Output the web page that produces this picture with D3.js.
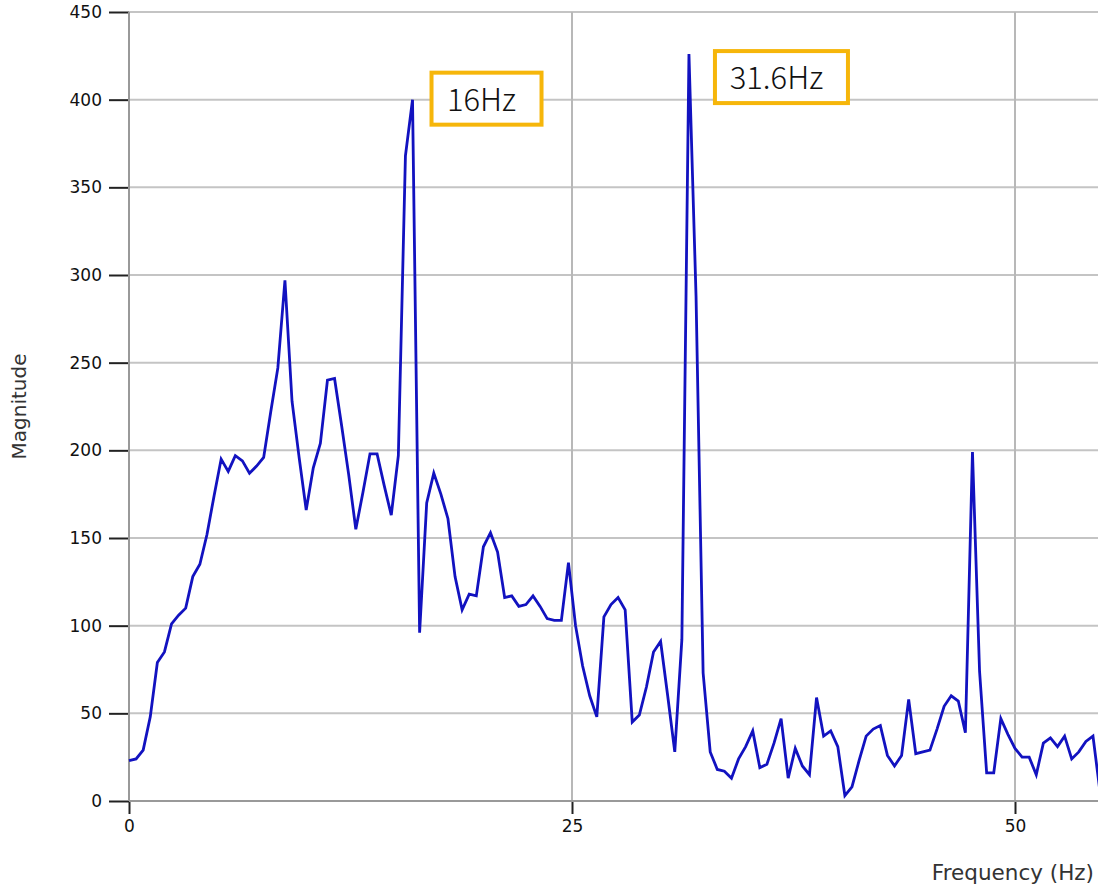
<!DOCTYPE html>
<html>
<head>
<meta charset="utf-8">
<script src="https://cdn.jsdelivr.net/npm/d3@7"></script>
<style>
  html, body { margin: 0; padding: 0; background: #fff; overflow: hidden; }
  svg { display: block; }
</style>
</head>
<body>
<svg id="chart" width="1098" height="890"></svg>
<script>
// ---- data ----
const frequencies = [0,0.4,0.8,1.2,1.6,2,2.4,2.8,3.2,3.6,4,4.4,4.8,5.2,5.6,6,6.4,6.8,7.2,7.6,
  8,8.4,8.8,9.2,9.6,10,10.4,10.8,11.2,11.6,12,12.4,12.8,13.2,13.6,14,14.4,14.8,15.2,15.6,
  16,16.4,16.8,17.2,17.6,18,18.4,18.8,19.2,19.6,20,20.4,20.8,21.2,21.6,22,22.4,22.8,23.2,23.6,
  24,24.4,24.8,25.2,25.6,26,26.4,26.8,27.2,27.6,28,28.4,28.8,29.2,29.6,30,30.4,30.8,31.2,31.6,
  32,32.4,32.8,33.2,33.6,34,34.4,34.8,35.2,35.6,36,36.4,36.8,37.2,37.6,38,38.4,38.8,39.2,39.6,
  40,40.4,40.8,41.2,41.6,42,42.4,42.8,43.2,43.6,44,44.4,44.8,45.2,45.6,46,46.4,46.8,47.2,47.6,
  48,48.4,48.8,49.2,49.6,50,50.4,50.8,51.2,51.6,52,52.4,52.8,53.2,53.6,54,54.4,54.8];
const magnitudes = [23,24,29,48,79,85,101,106,110,128,135,152,174,195,188,197,194,187,191,196,
  222,247,297,228,196,166,190,204,240,241,214,186,155,176,198,198,180,163,197,368,
  400,96,170,187,175,161,128,109,118,117,145,153,142,116,117,111,112,117,111,104,
  103,103,136,100,77,60,48,105,112,116,109,45,49,65,85,91,60,28,92,426,
  288,73,28,18,17,13,24,31,40,19,21,33,47,13,30,20,15,59,37,40,
  31,3,8,23,37,41,43,26,20,26,58,27,28,29,41,54,60,57,39,199,
  74,16,16,47,38,30,25,25,15,33,36,31,37,24,28,34,37,5];
const xTicks = [0, 25, 50];
const yTicks = [0, 50, 100, 150, 200, 250, 300, 350, 400, 450];
const xLabel = "Frequency (Hz)";
const yLabel = "Magnitude";
const annotations = [
  { text: "16Hz",   freq: 16,   mag: 400 },
  { text: "31.6Hz", freq: 31.6, mag: 426 }
];

// ---- layout ----
const W = 1098, H = 890;
const svg = d3.select("#chart");
const x = d3.scaleLinear().domain([0, 50]).range([129, 1015]);
const y = d3.scaleLinear().domain([0, 450]).range([801, 12]);
const right = W;
const sans = "'DejaVu Sans', Verdana, sans-serif";

// gridlines (horizontal)
svg.append("g")
  .selectAll("line")
  .data(yTicks)
  .join("line")
  .attr("x1", x(0)).attr("x2", right)
  .attr("y1", d => y(d)).attr("y2", d => y(d))
  .attr("stroke", "#c4c4c4").attr("stroke-width", 2);

// vertical gridlines
svg.append("g")
  .selectAll("line")
  .data(xTicks.filter(d => d > 0))
  .join("line")
  .attr("x1", d => x(d)).attr("x2", d => x(d))
  .attr("y1", y(450)).attr("y2", y(0))
  .attr("stroke", "#b8b8b8").attr("stroke-width", 2);

// y axis
const yAxis = d3.axisLeft(y).tickValues(yTicks).tickSize(20).tickPadding(7).tickFormat(d3.format("d"));
const gy = svg.append("g").attr("transform", `translate(${x(0)},0)`).call(yAxis);
gy.select(".domain").remove();
gy.selectAll(".tick line").attr("stroke", "#222").attr("stroke-width", 2);
gy.selectAll(".tick text")
  .attr("fill", "#111")
  .style("font-family", sans)
  .style("font-size", "17px");
svg.append("line")
  .attr("x1", x(0)).attr("x2", x(0)).attr("y1", y(450)).attr("y2", y(0))
  .attr("stroke", "#999").attr("stroke-width", 2);

// x axis
const xAxis = d3.axisBottom(x).tickValues(xTicks).tickSize(13).tickPadding(6).tickFormat(d3.format("d"));
const gx = svg.append("g").attr("transform", `translate(0,${y(0)})`).call(xAxis);
gx.select(".domain").remove();
gx.selectAll(".tick line").attr("stroke", "#222").attr("stroke-width", 2);
gx.selectAll(".tick text")
  .attr("fill", "#111")
  .style("font-family", sans)
  .style("font-size", "17px");
svg.append("line")
  .attr("x1", x(0)).attr("x2", right).attr("y1", y(0)).attr("y2", y(0))
  .attr("stroke", "#999").attr("stroke-width", 2);

// data line
const pts = frequencies.map((f, i) => ({ f, m: magnitudes[i] }));
const line = d3.line().x(d => x(d.f)).y(d => y(d.m));
svg.append("path")
  .datum(pts)
  .attr("d", line)
  .attr("fill", "none")
  .attr("stroke", "#1212c0")
  .attr("stroke-width", 2.8)
  .attr("stroke-linejoin", "miter");

// axis titles
svg.append("text")
  .attr("transform", `translate(26,${(y(0) + y(450)) / 2}) rotate(-90)`)
  .attr("text-anchor", "middle")
  .attr("fill", "#333")
  .style("font-family", sans)
  .style("font-size", "20px")
  .text(yLabel);
svg.append("text")
  .attr("x", 1094).attr("y", 880)
  .attr("text-anchor", "end")
  .attr("fill", "#333")
  .style("font-family", sans)
  .style("font-size", "21.5px")
  .text(xLabel);

// annotation boxes
const boxOffsets = [
  { dx: 19, dy: -27, w: 110, h: 52 },
  { dx: 26, dy: -3, w: 133, h: 52 }
];
annotations.forEach((a, i) => {
  const o = boxOffsets[i];
  const bx = x(a.freq) + o.dx, by = y(a.mag) + o.dy;
  svg.append("rect")
    .attr("x", bx).attr("y", by).attr("width", o.w).attr("height", o.h)
    .attr("fill", "#fff").attr("stroke", "#f6b60a").attr("stroke-width", 4);
  svg.append("text")
    .attr("x", bx + o.w / 2 - 5).attr("y", by + o.h / 2 + 12)
    .attr("text-anchor", "middle")
    .attr("fill", "#111")
    .style("font-family", "'Noto Sans CJK KR', 'Noto Sans', sans-serif")
    .style("font-size", "31px")
    .style("font-weight", "300")
    .text(a.text);
});
</script>
</body>
</html>
